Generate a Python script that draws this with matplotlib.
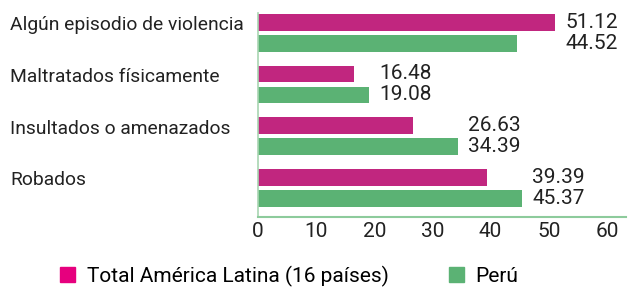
import numpy as np
import matplotlib
matplotlib.use("Agg")
import matplotlib.pyplot as plt
from matplotlib.patches import Patch
from matplotlib.transforms import blended_transform_factory

plt.rcParams['font.family'] = ['Roboto', 'DejaVu Sans']

categorias = ["Algún episodio de violencia", "Maltratados físicamente",
              "Insultados o amenazados", "Robados"]
america_latina = [51.12, 16.48, 26.63, 39.39]
peru = [44.52, 19.08, 34.39, 45.37]
ticks = [0, 10, 20, 30, 40, 50, 60]

col_al = "#C1267F"
col_al_leg = "#E6007E"
col_pe = "#5BB274"

fig = plt.figure(figsize=(6.34, 2.87), dpi=100)
ax = fig.add_axes([258 / 634, 1 - 216.7 / 287, 368 / 634, (216.7 - 13) / 287])

y = np.arange(len(categorias))
h = 0.323
off = 0.203
ax.barh(y - off, america_latina, height=h, color=col_al)
ax.barh(y + off, peru, height=h, color=col_pe)

trans = blended_transform_factory(fig.transFigure, ax.transData)
for i in range(len(categorias)):
    xt = max(america_latina[i], peru[i]) + 1.8
    ax.text(xt, y[i] - off, f"{america_latina[i]:.2f}", va="center", ha="left",
            fontsize=15, color="#222222")
    ax.text(xt, y[i] + off, f"{peru[i]:.2f}", va="center", ha="left",
            fontsize=15, color="#222222")
    # etiqueta de categoria a la izquierda
    fig.text(10 / 634, y[i] - off + 0.06, categorias[i], fontsize=13.9,
             color="#222222", va="center", ha="left", transform=trans)

ax.set_xlim(0, 63.3)
ax.set_ylim(3.56, -0.383)
ax.set_xticks(ticks)
ax.set_xticklabels([str(t) for t in ticks], fontsize=15, color="#222222")
ax.set_yticks([])
ax.tick_params(axis="x", length=0, pad=4)
for s in ["top", "right"]:
    ax.spines[s].set_visible(False)
ax.spines["bottom"].set_color("#8DCB9C")
ax.spines["bottom"].set_linewidth(1.5)
ax.spines["left"].set_color("#A8D5B2")
ax.spines["left"].set_linewidth(1.2)

handles = [Patch(color=col_al_leg, label="Total América Latina (16 países)"),
           Patch(color=col_pe, label="Perú")]
fig.legend(handles=handles, loc="center left", bbox_to_anchor=(60 / 634, 11 / 287),
           ncol=2, frameon=False, fontsize=15, handlelength=0.72, handleheight=0.77,
           handletextpad=0.56, columnspacing=2.9, borderpad=0, borderaxespad=0)

fig.savefig("out.png", dpi=100)
